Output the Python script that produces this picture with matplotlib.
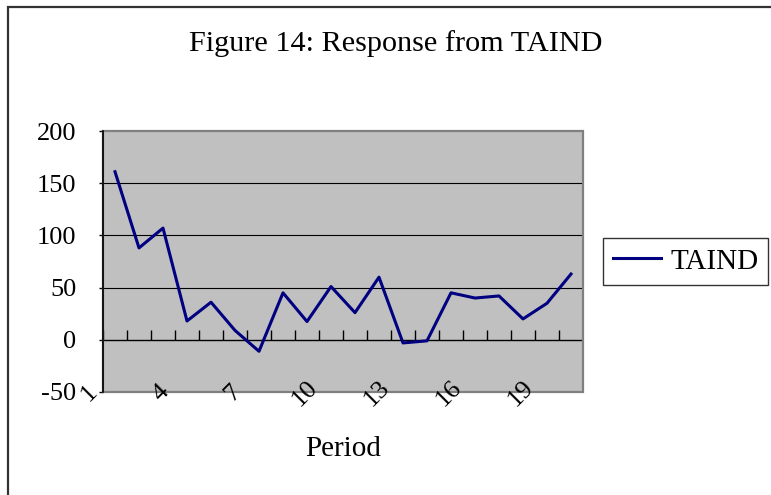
import matplotlib
matplotlib.use("Agg")
import matplotlib.pyplot as plt
import matplotlib.transforms as mtransforms
from matplotlib.patches import Rectangle

periods = list(range(1, 21))
taind = [161, 88, 107, 18, 36, 9, -11, 45, 17.5, 51, 26, 60, -3, -1, 45, 40, 42, 20, 35, 63]
xtick_labels = ["1", "4", "7", "10", "13", "16", "19"]
ytick_values = [-50, 0, 50, 100, 150, 200]

plt.rcParams['font.family'] = ['Liberation Serif', 'DejaVu Serif']

W, H = 771, 495
fig = plt.figure(figsize=(W / 100, H / 100), dpi=100)

# outer chart border
fig.patches.append(Rectangle((8 / W, -0.1), 1.2, 1 - 7 / H + 0.1, transform=fig.transFigure,
                             fill=False, edgecolor='#333333', lw=1.6))

ax = fig.add_axes([103 / W, (H - 392) / H, 480 / W, 261 / H])
ax.set_facecolor('#c0c0c0')
ax.set_xlim(0.5, 20.5)
ax.set_ylim(-50, 200)

for s in ['top', 'right', 'bottom']:
    ax.spines[s].set_visible(False)
ax.spines['left'].set_color('black')
ax.spines['left'].set_linewidth(1.2)
ax.spines['left'].set_zorder(4)

# plot area frame
ax.add_patch(Rectangle((0, 0), 1, 1, transform=ax.transAxes, fill=False,
                       edgecolor='#808080', lw=1.6, zorder=3, clip_on=False))

# gridlines
for v in [50, 100, 150]:
    ax.axhline(v, color='black', lw=0.8, zorder=1)
# zero axis line
ax.axhline(0, color='black', lw=1.0, zorder=2)

ax.set_yticks(ytick_values)
ax.set_yticklabels([str(v) for v in ytick_values], fontsize=19)
ax.tick_params(axis='y', direction='out', length=3, width=1, pad=16, colors='black')

# category boundary ticks along zero line
ax.set_xticks([])
bounds = [p - 0.5 for p in periods] + [periods[-1] + 0.5]
ax.vlines(bounds, 0, 9.5, colors='black', lw=1.0, zorder=2)

ax.plot(periods, taind, color='#000080', lw=2.2, zorder=5, label='TAIND')

# rotated category labels
offset = mtransforms.ScaledTranslation(-26 / 100, -1 / 100, fig.dpi_scale_trans)
trans = mtransforms.blended_transform_factory(ax.transData, ax.transAxes) + offset
for lab in xtick_labels:
    ax.text(int(lab), 0, lab, transform=trans, rotation=45, ha='center', va='center',
            fontsize=19, clip_on=False)

fig.text(396 / W, 1 - 44 / H, 'Figure 14: Response from TAIND', ha='center', va='center', fontsize=21.8)
fig.text(343 / W, 1 - 449 / H, 'Period', ha='center', va='center', fontsize=21)

leg = fig.legend(loc='upper left', bbox_to_anchor=(603 / W, 1 - 238 / H), borderaxespad=0,
                 fontsize=21, frameon=True, fancybox=False, handlelength=1.65,
                 handletextpad=0.3, borderpad=0.35)
leg.get_frame().set_edgecolor('black')
leg.get_frame().set_linewidth(1.0)

fig.savefig('out.png', dpi=100)
